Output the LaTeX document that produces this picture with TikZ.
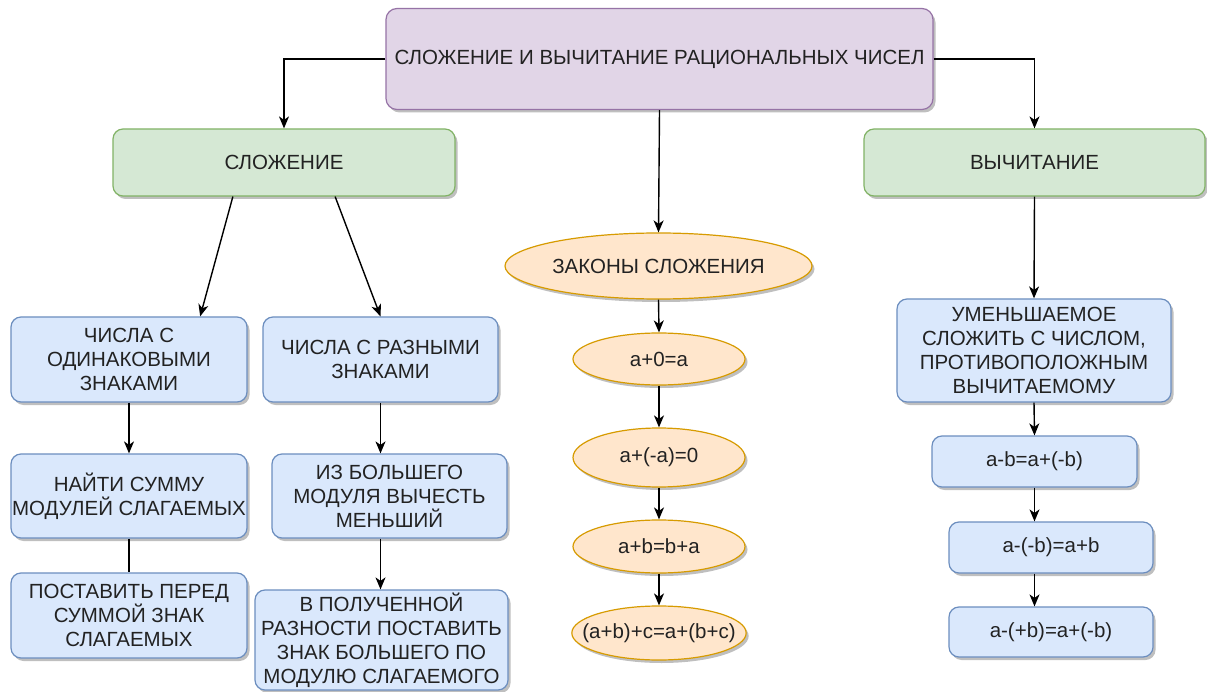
\documentclass[tikz,border=0pt]{standalone}
\usepackage{fontspec}
\setmainfont{Liberation Sans}
\usetikzlibrary{shapes.geometric,arrows.meta,shadows,calc}
\definecolor{pfill}{HTML}{E1D5E7}
\definecolor{pdraw}{HTML}{9673A6}
\definecolor{gfill}{HTML}{D5E8D4}
\definecolor{gdraw}{HTML}{82B366}
\definecolor{bfill}{HTML}{DAE8FC}
\definecolor{bdraw}{HTML}{6C8EBF}
\definecolor{ofill}{HTML}{FFE6CC}
\definecolor{odraw}{HTML}{D79B00}
\definecolor{txt}{HTML}{222222}
\tikzset{
  base/.style={draw, line width=1.2pt, align=center, inner sep=1pt, text=txt,
    font=\fontsize{20.5}{24}\selectfont,
    drop shadow={shadow xshift=2.5pt, shadow yshift=-3pt, opacity=0.25, fill=black}},
  pbox/.style={base, rectangle, rounded corners=11pt, fill=pfill, draw=pdraw},
  gbox/.style={base, rectangle, rounded corners=10pt, fill=gfill, draw=gdraw},
  bbox/.style={base, rectangle, rounded corners=10pt, fill=bfill, draw=bdraw},
  obox/.style={base, ellipse, fill=ofill, draw=odraw, inner sep=0pt},
  conn/.style={line width=1.4pt, draw=black},
  arr/.style={conn, -{Stealth[length=12pt,width=10pt,inset=3.5pt]}},
}
\begin{document}
\begin{tikzpicture}[x=1pt,y=-1pt]
\useasboundingbox (0,0) rectangle (1207,692);
\fill[white] (0,0) rectangle (1207,692);

\node[pbox, minimum width=547pt, minimum height=101pt] (title) at (659.5,59) {СЛОЖЕНИЕ И ВЫЧИТАНИЕ РАЦИОНАЛЬНЫХ ЧИСЕЛ};

\node[gbox, minimum width=342pt, minimum height=67pt] (add) at (284,162.5) {СЛОЖЕНИЕ};
\node[gbox, minimum width=341pt, minimum height=67pt] (sub) at (1034.5,162.5) {ВЫЧИТАНИЕ};

\node[obox, minimum width=307pt, minimum height=66pt] (laws) at (658.5,266) {ЗАКОНЫ СЛОЖЕНИЯ};
\node[obox, minimum width=172pt, minimum height=52pt] (l1) at (659,359) {a+0=a};
\node[obox, minimum width=172pt, minimum height=59pt] (l2) at (659,457.5) {a+(-a)=0};
\node[obox, minimum width=172pt, minimum height=53pt] (l3) at (659,546.5) {a+b=b+a};
\node[obox, minimum width=172pt, minimum height=54pt, inner xsep=-15pt] (l4) at (659,633) {(a+b)+c=a+(b+c)};

\node[bbox, minimum width=236pt, minimum height=85pt] (s1) at (129,359.5) {ЧИСЛА С\\ОДИНАКОВЫМИ\\ЗНАКАМИ};
\node[bbox, minimum width=235pt, minimum height=85pt] (s2) at (380.5,359.5) {ЧИСЛА С РАЗНЫМИ\\ЗНАКАМИ};
\node[bbox, minimum width=236pt, minimum height=84pt] (s3) at (129,496) {НАЙТИ СУММУ\\МОДУЛЕЙ СЛАГАЕМЫХ};
\node[bbox, minimum width=235pt, minimum height=84pt] (s4) at (389.5,496) {ИЗ БОЛЬШЕГО\\МОДУЛЯ ВЫЧЕСТЬ\\МЕНЬШИЙ};
\node[bbox, minimum width=236pt, minimum height=85pt] (s5) at (129,615.5) {ПОСТАВИТЬ ПЕРЕД\\СУММОЙ ЗНАК\\СЛАГАЕМЫХ};
\node[bbox, minimum width=253pt, minimum height=100pt] (s6) at (381.5,640) {В ПОЛУЧЕННОЙ\\РАЗНОСТИ ПОСТАВИТЬ\\ЗНАК БОЛЬШЕГО ПО\\МОДУЛЮ СЛАГАЕМОГО};

\node[bbox, minimum width=274pt, minimum height=103pt] (v1) at (1034,350.5) {УМЕНЬШАЕМОЕ\\СЛОЖИТЬ С ЧИСЛОМ,\\ПРОТИВОПОЛОЖНЫМ\\ВЫЧИТАЕМОМУ};
\node[bbox, minimum width=205pt, minimum height=51pt] (v2) at (1034.5,461.5) {a-b=a+(-b)};
\node[bbox, minimum width=204pt, minimum height=51pt] (v3) at (1051,547.5) {a-(-b)=a+b};
\node[bbox, minimum width=204pt, minimum height=50pt] (v4) at (1051,632) {a-(+b)=a+(-b)};

% connectors
\draw[arr] (title.west) -| (add.north);
\draw[arr] (title.east) -| (sub.north);
\draw[arr] (title.south) -- (laws.north);

\draw[arr] ($(add.south west)!0.351!(add.south east)$) -- ($(s1.north west)!0.8!(s1.north east)$);
\draw[arr] ($(add.south west)!0.649!(add.south east)$) -- (s2.north);
\draw[arr] (s1.south) -- (s3.north);
\draw[conn] (s3.south) -- (s5.north);
\draw[arr] (s2.south) -- (s2.south |- s4.north);
\draw[arr] (s2.south |- s4.south) -- (s2.south |- s6.north);

\draw[arr] (laws.south) -- (l1.north);
\draw[arr] (l1.south) -- (l2.north);
\draw[arr] (l2.south) -- (l3.north);
\draw[arr] (l3.south) -- (l4.north);

\draw[arr] (sub.south) -- (v1.north);
\draw[arr] (v1.south) -- (v2.north);
\draw[arr] (v2.south) -- (v2.south |- v3.north);
\draw[arr] (v2.south |- v3.south) -- (v2.south |- v4.north);
\end{tikzpicture}
\end{document}
